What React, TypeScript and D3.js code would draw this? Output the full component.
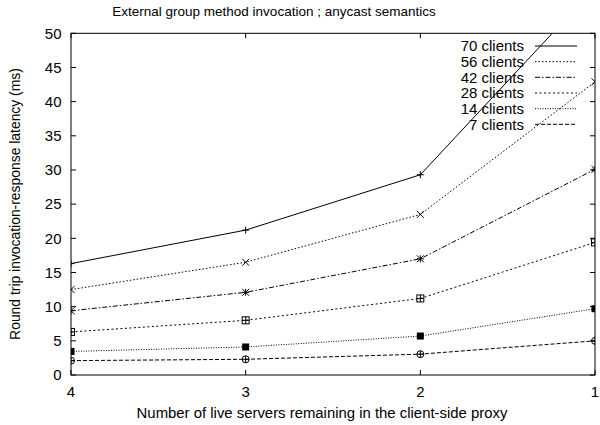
import React from "react";
import * as d3 from "d3";

const servers = [4, 3, 2, 1];
const xTickLabels = ["4", "3", "2", "1"];
const yTicks = [0, 5, 10, 15, 20, 25, 30, 35, 40, 45, 50];
const seriesNames = ["70 clients", "56 clients", "42 clients", "28 clients", "14 clients", "7 clients"];
const clients70 = [16.3, 21.2, 29.3, 56.7];
const clients56 = [12.5, 16.5, 23.5, 42.9];
const clients42 = [9.4, 12.1, 17.0, 30.1];
const clients28 = [6.3, 8.0, 11.2, 19.4];
const clients14 = [3.45, 4.1, 5.7, 9.7];
const clients7 = [2.1, 2.3, 3.05, 5.0];

const seriesValues = [clients70, clients56, clients42, clients28, clients14, clients7];
const dashes = ["none", "1.5,2", "5,2,1.5,2", "2,2.5", "1,1.5", "4,2"];
const markers = ["plus", "cross", "star", "boxplus", "fillsq", "circplus"];

const W = 600, H = 425;
const L = 71, R = 595, T = 33.3, B = 375;
const FONT = "'Liberation Sans', Arial, Helvetica, sans-serif";

function Marker({ type, x, y }: { type: string; x: number; y: number }) {
  const s = 3.5;
  const st = { stroke: "#000", strokeWidth: 1, fill: "none" } as const;
  switch (type) {
    case "plus":
      return <g {...st}><line x1={x - s} x2={x + s} y1={y} y2={y} /><line x1={x} x2={x} y1={y - s} y2={y + s} /></g>;
    case "cross":
      return <g {...st}><line x1={x - s} x2={x + s} y1={y - s} y2={y + s} /><line x1={x - s} x2={x + s} y1={y + s} y2={y - s} /></g>;
    case "star":
      return <g {...st}><line x1={x - s} x2={x + s} y1={y} y2={y} /><line x1={x} x2={x} y1={y - s} y2={y + s} /><line x1={x - s} x2={x + s} y1={y - s} y2={y + s} /><line x1={x - s} x2={x + s} y1={y + s} y2={y - s} /></g>;
    case "boxplus":
      return <g {...st}><rect x={x - s} y={y - s} width={2 * s} height={2 * s} /><line x1={x - s} x2={x + s} y1={y} y2={y} /><line x1={x} x2={x} y1={y - s} y2={y + s} /></g>;
    case "fillsq":
      return <rect x={x - s} y={y - s} width={2 * s} height={2 * s} fill="#000" />;
    case "circplus":
      return <g {...st}><circle cx={x} cy={y} r={s} /><line x1={x - s} x2={x + s} y1={y} y2={y} /><line x1={x} x2={x} y1={y - s} y2={y + s} /></g>;
  }
  return null;
}

export default function App() {
  const x = d3.scalePoint<number>().domain(servers).range([L, R]);
  const y = d3.scaleLinear().domain([0, 50]).range([B, T]);
  const line = d3.line<number>().x((_, i) => x(servers[i])!).y((d) => y(d));
  const legendY = [46, 61.7, 77.3, 93, 108.7, 124.3];

  return (
    <svg width={W} height={H} style={{ position: "absolute", left: 0, top: 0, background: "#fff" }} fontFamily={FONT}>
      <defs>
        <clipPath id="plot"><rect x={L} y={T} width={R - L} height={B - T} /></clipPath>
      </defs>
      <text x={274} y={11} dy="0.35em" fontSize={13.5} textAnchor="middle">External group method invocation ; anycast semantics</text>
      {yTicks.map((t) => (
        <g key={t}>
          <line x1={L} x2={L + 5} y1={y(t)} y2={y(t)} stroke="#000" />
          <line x1={R} x2={R - 5} y1={y(t)} y2={y(t)} stroke="#000" />
          <text x={61.5} y={y(t)} dy="0.35em" fontSize={15} textAnchor="end">{t}</text>
        </g>
      ))}
      {servers.map((s, i) => (
        <g key={s}>
          <line x1={x(s)} x2={x(s)} y1={B} y2={B - 5} stroke="#000" />
          <line x1={x(s)} x2={x(s)} y1={T} y2={T + 5} stroke="#000" />
          <text x={x(s)} y={392} dy="0.35em" fontSize={15} textAnchor="middle">{xTickLabels[i]}</text>
        </g>
      ))}
      <text x={322} y={413} dy="0.35em" fontSize={14.9} textAnchor="middle">Number of live servers remaining in the client-side proxy</text>
      <text transform={`translate(15,204) rotate(-90)`} dy="0.35em" fontSize={13.9} textAnchor="middle">Round trip invocation-response latency (ms)</text>
      <g clipPath="url(#plot)">
        {seriesValues.map((vals, k) => (
          <path key={k} d={line(vals)!} fill="none" stroke="#000" strokeWidth={1} strokeDasharray={dashes[k]} />
        ))}
        {seriesValues.map((vals, k) => vals.map((v, i) => (
          <Marker key={`${k}-${i}`} type={markers[k]} x={x(servers[i])!} y={y(v)} />
        )))}
      </g>
      {seriesNames.map((n, k) => (
        <g key={n}>
          <text x={524} y={legendY[k]} dy="0.35em" fontSize={15} textAnchor="end">{n}</text>
          <line x1={535} x2={577} y1={legendY[k]} y2={legendY[k]} stroke="#000" strokeDasharray={dashes[k]} />
        </g>
      ))}
      <rect x={L} y={T} width={R - L} height={B - T} fill="none" stroke="#000" strokeWidth={1} />
    </svg>
  );
}
